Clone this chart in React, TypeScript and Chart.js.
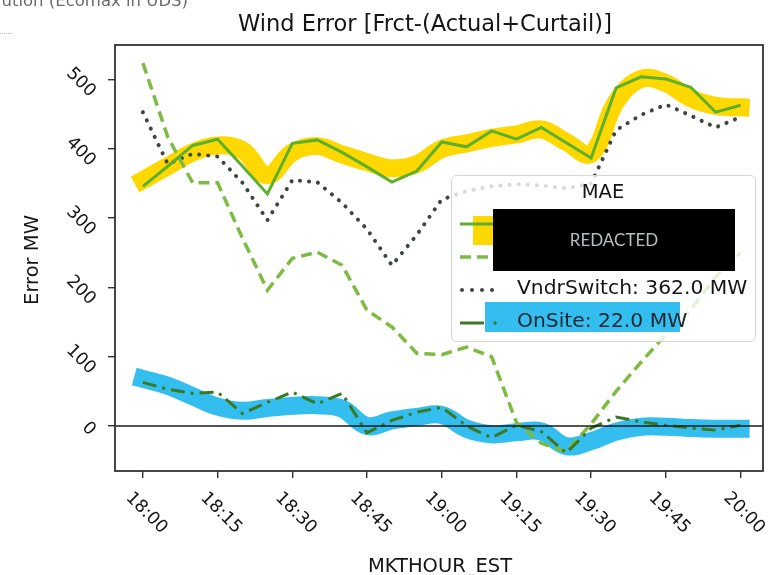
import React, { useEffect, useRef } from "react";
import { Chart, registerables } from "chart.js";

Chart.register(...registerables);

// ---- data (minutes after 18:00) ----
const MINUTES = [0, 5, 10, 15, 20, 25, 30, 35, 40, 45, 50, 55, 60, 65, 70, 75, 80, 85, 90, 95, 100, 105, 110, 115, 120];
const FRCT_SOLID = [346, 375, 405, 414, 375, 335, 408, 413, 395, 374, 352, 368, 410, 403, 426, 414, 431, 409, 387, 488, 504, 501, 489, 453, 463];
const DASHED = [524, 417, 351, 351, 271, 196, 242, 251, 232, 167, 143, 105, 103, 114, 100, 5, -25, -37, 3, 50, 92, 132, 168, 215, 250];
const VNDR_SWITCH = [453, 378, 393, 389, 351, 297, 355, 352, 322, 284, 232, 276, 327, 339, 346, 349, 347, 343, 350, 427, 449, 464, 448, 431, 446];
const ONSITE = [63, 53, 47, 49, 18, 34, 49, 32, 47, -10, 8, 20, 27, 0, -17, 1, -8, -39, -3, 13, 6, 1, -3, -6, 1];
const BAND_YELLOW = [355, 375, 395, 405, 398, 362, 395, 404, 392, 381, 372, 378, 400, 408, 416, 421, 428, 410, 393, 468, 501, 495, 473, 462, 460];
const BAND_BLUE = [68, 58, 43, 28, 22, 26, 29, 30, 25, 0, 8, 13, 16, -4, -12, -9, -8, -29, -22, -8, -1, -1, -3, -4, -4];

const X_TICK_MINUTES = [0, 15, 30, 45, 60, 75, 90, 105, 120];
const X_TICK_LABELS = ["18:00", "18:15", "18:30", "18:45", "19:00", "19:15", "19:30", "19:45", "20:00"];
const Y_TICKS = [0, 100, 200, 300, 400, 500];
const Y_TICK_LABELS = ["0", "100", "200", "300", "400", "500"];

const TITLE = "Wind Error [Frct-(Actual+Curtail)]";
const X_TITLE = "MKTHOUR_EST";
const Y_TITLE = "Error MW";
const TOP_LEFT_TEXT = "Evolution (Ecomax in UDS)";
const LEGEND_TITLE = "MAE";
const LEGEND_LABELS = ["", "", "VndrSwitch: 362.0 MW", "OnSite: 22.0 MW"];
const REDACTED = "REDACTED";

const X_MIN = -5.6;
const X_MAX = 124.5;
const Y_MIN = -65;
const Y_MAX = 550;

const C_SOLID = "#5CAF2F";
const C_DASHED = "#7EBB43";
const C_DOTTED = "#3E473E";
const C_DASHDOT = "#3C7822";
const C_YELLOW = "#FFD800";
const C_BLUE = "#33BEEF";
const C_TEXT = "#151515";
const FONT = '"DejaVu Sans", sans-serif';

const pts = (vals: number[]) => vals.map((v, i) => ({ x: MINUTES[i], y: v }));

function rrect(ctx: CanvasRenderingContext2D, x: number, y: number, w: number, h: number, r: number) {
  ctx.beginPath();
  ctx.moveTo(x + r, y);
  ctx.lineTo(x + w - r, y);
  ctx.arcTo(x + w, y, x + w, y + r, r);
  ctx.lineTo(x + w, y + h - r);
  ctx.arcTo(x + w, y + h, x + w - r, y + h, r);
  ctx.lineTo(x + r, y + h);
  ctx.arcTo(x, y + h, x, y + h - r, r);
  ctx.lineTo(x, y + r);
  ctx.arcTo(x, y, x + r, y, r);
  ctx.closePath();
}

function seg(ctx: CanvasRenderingContext2D, x1: number, y1: number, x2: number, y2: number) {
  ctx.beginPath();
  ctx.moveTo(x1, y1);
  ctx.lineTo(x2, y2);
  ctx.stroke();
}

const overlayPlugin = {
  id: "overlay",
  afterDatasetsDraw(chart: any) {
    const ctx: CanvasRenderingContext2D = chart.ctx;
    const a = chart.chartArea;
    const ys = chart.scales.y;
    ctx.save();
    // zero line
    const y0 = ys.getPixelForValue(0);
    ctx.strokeStyle = "#1a1a1a";
    ctx.lineWidth = 1.6;
    seg(ctx, a.left, y0, a.right, y0);

    // frame
    ctx.strokeStyle = "#333";
    ctx.lineWidth = 1.8;
    ctx.strokeRect(a.left, a.top, a.right - a.left, a.bottom - a.top);

    // legend
    rrect(ctx, 451.5, 175.5, 304, 166, 5);
    ctx.fillStyle = "rgba(255,255,255,0.8)";
    ctx.fill();
    ctx.strokeStyle = "#d6d6d6";
    ctx.lineWidth = 1;
    ctx.stroke();

    ctx.fillStyle = C_TEXT;
    ctx.font = `19.5px ${FONT}`;
    ctx.textAlign = "center";
    ctx.textBaseline = "middle";
    ctx.fillText(LEGEND_TITLE, 603, 193);

    // row 1
    ctx.fillStyle = C_YELLOW;
    ctx.fillRect(473, 216, 22, 29);
    ctx.strokeStyle = C_SOLID;
    ctx.lineWidth = 3;
    ctx.setLineDash([]);
    seg(ctx, 460, 224, 494, 224);
    // row 2
    ctx.strokeStyle = C_DASHED;
    ctx.lineWidth = 3.5;
    ctx.setLineDash([11, 6]);
    seg(ctx, 460, 257, 494, 257);
    // row 3
    ctx.setLineDash([]);
    ctx.fillStyle = C_DOTTED;
    [462, 472, 482, 492].forEach((x) => {
      ctx.beginPath();
      ctx.arc(x, 290, 2, 0, Math.PI * 2);
      ctx.fill();
    });
    ctx.fillStyle = C_TEXT;
    ctx.textAlign = "left";
    ctx.font = `20.3px ${FONT}`;
    ctx.fillText(LEGEND_LABELS[2], 517, 289);
    // row 4
    ctx.fillStyle = C_BLUE;
    ctx.fillRect(485, 302, 195, 30);
    ctx.strokeStyle = C_DASHDOT;
    ctx.lineWidth = 3;
    ctx.setLineDash([]);
    seg(ctx, 460, 323, 484, 323);
    ctx.fillStyle = C_DASHDOT;
    ctx.beginPath();
    ctx.arc(495, 323, 1.7, 0, Math.PI * 2);
    ctx.fill();
    ctx.fillStyle = "#1a2630";
    ctx.fillText(LEGEND_LABELS[3], 517, 322);

    // redacted box
    ctx.fillStyle = "#000";
    ctx.fillRect(493, 209, 242, 62);
    ctx.fillStyle = "#b5bfc0";
    ctx.font = '17px Lato, "Open Sans", sans-serif';
    ctx.textAlign = "center";
    ctx.fillText(REDACTED, 614, 241);
    ctx.restore();
  },
  afterDraw(chart: any) {
    const ctx: CanvasRenderingContext2D = chart.ctx;
    const xs = chart.scales.x;
    const ys = chart.scales.y;
    ctx.save();
    // title
    ctx.fillStyle = C_TEXT;
    ctx.font = `22.5px ${FONT}`;
    ctx.textAlign = "center";
    ctx.textBaseline = "alphabetic";
    ctx.fillText(TITLE, 425, 31);

    // cut-off text at top left
    ctx.fillStyle = "#6a6a6a";
    ctx.font = `16.5px ${FONT}`;
    ctx.textAlign = "right";
    ctx.fillText(TOP_LEFT_TEXT, 188, 6);
    ctx.strokeStyle = "#bbb";
    ctx.lineWidth = 1;
    ctx.setLineDash([1, 1]);
    seg(ctx, 0, 33.5, 13, 33.5);
    ctx.setLineDash([]);

    // axis titles
    ctx.fillStyle = C_TEXT;
    ctx.font = `19.5px ${FONT}`;
    ctx.textAlign = "center";
    ctx.fillText(X_TITLE, 440, 572);
    ctx.save();
    ctx.translate(38, 260);
    ctx.rotate(-Math.PI / 2);
    ctx.textBaseline = "alphabetic";
    ctx.fillText(Y_TITLE, 0, 0);
    ctx.restore();

    // tick labels
    const fs = 17.5;
    ctx.font = `${fs}px ${FONT}`;
    ctx.textAlign = "center";
    ctx.textBaseline = "middle";
    ctx.fillStyle = C_TEXT;
    X_TICK_MINUTES.forEach((m, i) => {
      const px = xs.getPixelForValue(m);
      ctx.save();
      ctx.translate(px + 3.5, 513);
      ctx.rotate(Math.PI / 4);
      ctx.fillText(X_TICK_LABELS[i], 0, 0);
      ctx.restore();
    });
    Y_TICKS.forEach((v, i) => {
      const py = ys.getPixelForValue(v);
      const w = ctx.measureText(Y_TICK_LABELS[i]).width;
      const ext = (w + 0.73 * fs) / Math.SQRT2;
      ctx.save();
      ctx.translate(97 - ext / 2, py + 3);
      ctx.rotate(Math.PI / 4);
      ctx.fillText(Y_TICK_LABELS[i], 0, 0);
      ctx.restore();
    });
    ctx.restore();
  },
};

export default function App() {
  const ref = useRef<HTMLCanvasElement | null>(null);
  useEffect(() => {
    if (!ref.current) return;
    const band = (vals: number[], color: string) => ({
      data: pts(vals),
      borderColor: color,
      backgroundColor: color,
      borderWidth: 18,
      tension: 0.4,
      borderCapStyle: "square" as const,
      borderJoinStyle: "round" as const,
      pointRadius: 0,
      fill: false,
      order: 10,
    });
    const chart = new Chart(ref.current, {
      type: "line",
      data: {
        datasets: [
          band(BAND_YELLOW, C_YELLOW),
          band(BAND_BLUE, C_BLUE),
          {
            data: pts(VNDR_SWITCH),
            borderColor: C_DOTTED,
            borderWidth: 4,
            borderDash: [0.1, 9],
            borderCapStyle: "round",
            pointRadius: 0,
            tension: 0,
            order: 4,
          },
          {
            data: pts(DASHED),
            borderColor: C_DASHED,
            borderWidth: 3.5,
            borderDash: [11, 6],
            pointRadius: 0,
            tension: 0,
            order: 3,
          },
          {
            data: pts(FRCT_SOLID),
            borderColor: C_SOLID,
            borderWidth: 3,
            pointRadius: 0,
            tension: 0,
            order: 2,
          },
          {
            data: pts(ONSITE),
            borderColor: C_DASHDOT,
            borderWidth: 3,
            borderDash: [14, 6, 3, 6],
            pointRadius: 0,
            tension: 0,
            order: 1,
          },
        ],
      },
      options: {
        responsive: false,
        devicePixelRatio: 1,
        animation: false,
        layout: { padding: { top: 45, right: 13, left: 0, bottom: 0 } },
        plugins: {
          legend: { display: false },
          title: { display: false },
          tooltip: { enabled: false },
        },
        scales: {
          x: {
            type: "linear",
            min: X_MIN,
            max: X_MAX,
            afterBuildTicks: (s: any) => {
              s.ticks = X_TICK_MINUTES.map((v) => ({ value: v }));
            },
            afterFit: (s: any) => {
              s.height = 104;
            },
            ticks: { display: false },
            grid: { drawOnChartArea: false, drawTicks: true, tickLength: 7, color: "#333", lineWidth: 1.4 },
            border: { display: false },
          },
          y: {
            type: "linear",
            min: Y_MIN,
            max: Y_MAX,
            afterBuildTicks: (s: any) => {
              s.ticks = Y_TICKS.map((v) => ({ value: v }));
            },
            afterFit: (s: any) => {
              s.width = 115;
            },
            ticks: { display: false },
            grid: { drawOnChartArea: false, drawTicks: true, tickLength: 7, color: "#333", lineWidth: 1.4 },
            border: { display: false },
          },
        },
      },
      plugins: [overlayPlugin],
    });
    return () => chart.destroy();
  }, []);
  return (
    <div style={{ position: "absolute", left: 0, top: 0, width: 776, height: 575, background: "#fff" }}>
      <canvas ref={ref} width={776} height={575} style={{ display: "block" }} />
    </div>
  );
}
